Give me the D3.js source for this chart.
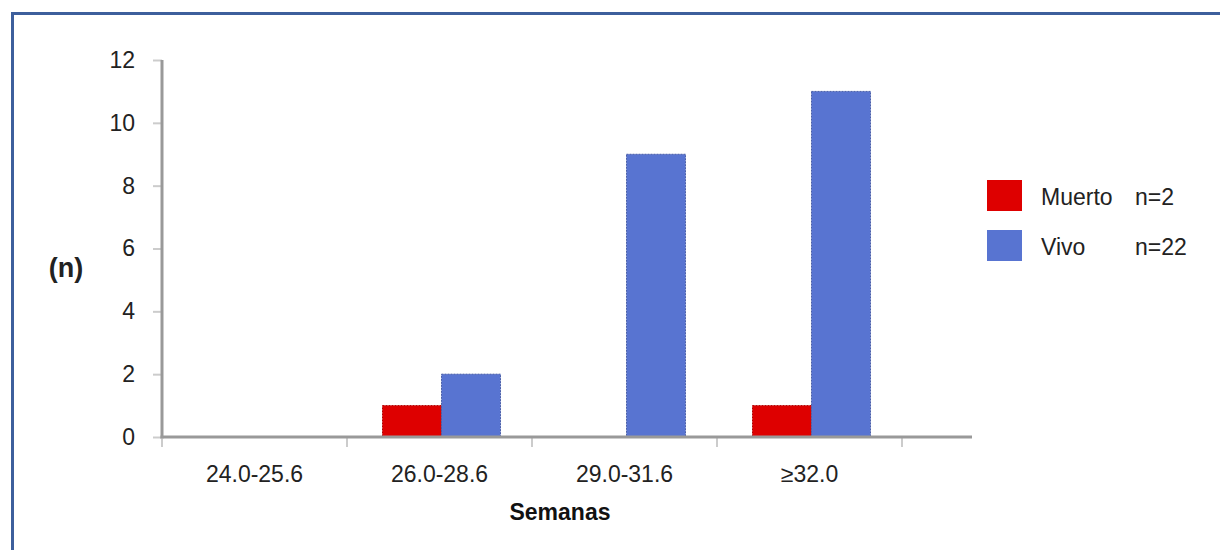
<!DOCTYPE html>
<html>
<head>
<meta charset="utf-8">
<script src="https://cdn.jsdelivr.net/npm/d3@7.9.0/dist/d3.min.js"></script>
<style>
  body { margin: 0; background: #fff; }
  svg { display: block; font-family: "Liberation Sans", Arial, sans-serif; }
</style>
</head>
<body>
<svg id="chart" width="1220" height="550"></svg>
<script>
// Data
const categories = ['24.0-25.6', '26.0-28.6', '29.0-31.6', '\u226532.0'];
const seriesNames = ['Muerto', 'Vivo'];
const muerto = [0, 1, 0, 1];
const vivo = [0, 2, 9, 11];
const legendCounts = ['n=2', 'n=22'];
const yTicks = [0, 2, 4, 6, 8, 10, 12];

const colors = { Muerto: '#de0000', Vivo: '#5874d1' };
const strokes = { Muerto: '#b00000', Vivo: '#4a5fa8' };

const svg = d3.select('#chart');
const axisColor = '#999';
const textColor = '#222';

// frame
svg.append('path')
  .attr('d', 'M12.5,550 L12.5,13.5 L1220,13.5')
  .attr('fill', 'none')
  .attr('stroke', '#3d5f9c')
  .attr('stroke-width', 3);

const x = d3.scaleBand().domain(categories).range([162, 902]);
const y = d3.scaleLinear().domain([0, 12]).range([437, 60]);
const inner = d3.scaleBand().domain(seriesNames).range([0, 118]);

const rows = categories.map((c, i) => ({ cat: c, Muerto: muerto[i], Vivo: vivo[i] }));

// bars
const groups = svg.append('g')
  .selectAll('g')
  .data(rows)
  .join('g')
  .attr('transform', (d) => `translate(${x(d.cat) + x.bandwidth() / 2 - 57},0)`);

groups.selectAll('rect')
  .data((d) => seriesNames.map((s) => ({ key: s, value: d[s] })).filter((d) => d.value > 0))
  .join('rect')
  .attr('x', (d) => inner(d.key))
  .attr('width', inner.bandwidth())
  .attr('y', (d) => y(d.value))
  .attr('height', (d) => y(0) - y(d.value))
  .attr('fill', (d) => colors[d.key])
  .attr('stroke', (d) => strokes[d.key])
  .attr('stroke-width', 1)
  .attr('stroke-dasharray', '2,1');

// y axis
const yAxis = svg.append('g')
  .attr('transform', 'translate(162,0)')
  .call(d3.axisLeft(y).tickValues(yTicks).tickSize(9).tickPadding(18));
yAxis.select('.domain').remove();
yAxis.selectAll('.tick line').attr('stroke', '#ccc').attr('stroke-width', 2);
yAxis.selectAll('.tick text')
  .attr('fill', textColor)
  .style('font-size', '23px');

svg.append('line')
  .attr('x1', 162).attr('x2', 162)
  .attr('y1', y(12)).attr('y2', y(0) + 1.5)
  .attr('stroke', axisColor).attr('stroke-width', 3);

// x axis
const xAxis = svg.append('g')
  .attr('transform', `translate(0,${y(0)})`)
  .call(d3.axisBottom(x).tickSize(0).tickPadding(29));
xAxis.select('.domain').remove();
xAxis.selectAll('.tick text')
  .attr('fill', textColor)
  .style('font-size', '23px');

// boundary ticks between categories
const bounds = categories.map((c) => x(c)).concat([x.range()[1]]);
svg.append('g')
  .selectAll('line')
  .data(bounds)
  .join('line')
  .attr('x1', (d) => d).attr('x2', (d) => d)
  .attr('y1', y(0)).attr('y2', y(0) + 10)
  .attr('stroke', '#ccc').attr('stroke-width', 2);

svg.append('line')
  .attr('x1', 160.5).attr('x2', 972)
  .attr('y1', y(0)).attr('y2', y(0))
  .attr('stroke', axisColor).attr('stroke-width', 3);

// axis titles
svg.append('text')
  .attr('x', 66).attr('y', 277)
  .attr('text-anchor', 'middle')
  .attr('fill', textColor)
  .style('font-size', '27px')
  .style('font-weight', 'bold')
  .text('(n)');

svg.append('text')
  .attr('x', 560).attr('y', 520)
  .attr('text-anchor', 'middle')
  .attr('fill', '#111')
  .style('font-size', '23px')
  .style('font-weight', 'bold')
  .text('Semanas');

// legend
const legend = svg.append('g')
  .selectAll('g')
  .data(seriesNames)
  .join('g')
  .attr('transform', (d, i) => `translate(987,${180 + i * 50})`);

legend.append('rect')
  .attr('width', 35).attr('height', 31)
  .attr('fill', (d) => colors[d]);

legend.append('text')
  .attr('x', 54).attr('y', 25)
  .attr('fill', textColor)
  .style('font-size', '23px')
  .text((d) => d);

legend.append('text')
  .attr('x', 148).attr('y', 25)
  .attr('fill', textColor)
  .style('font-size', '23px')
  .text((d, i) => legendCounts[i]);
</script>
</body>
</html>
